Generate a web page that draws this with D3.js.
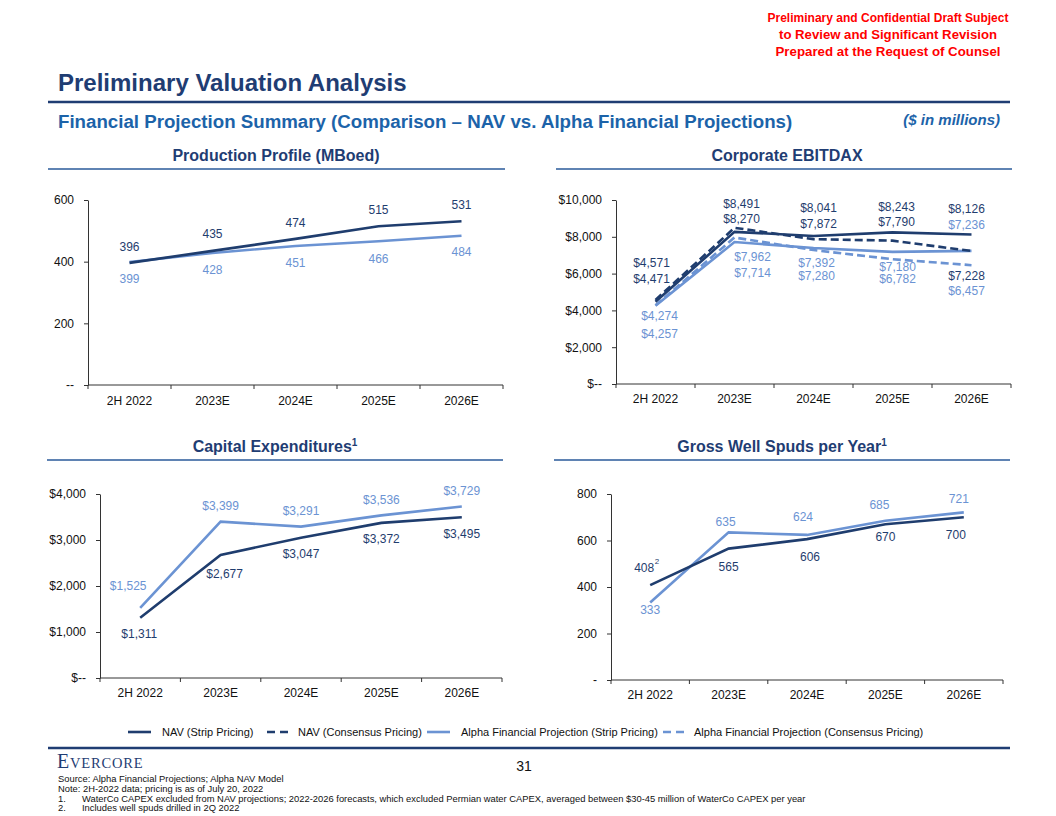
<!DOCTYPE html>
<html>
<head>
<meta charset="utf-8">
<script src="https://cdn.jsdelivr.net/npm/d3@7"></script>
<style>
  body { margin: 0; background: #fff; }
  svg { display: block; font-family: "Liberation Sans", Arial, sans-serif; }
</style>
</head>
<body>
<svg id="page" width="1056" height="816"></svg>
<script>
// ---- data ----
var years = ["2H 2022", "2023E", "2024E", "2025E", "2026E"];

var prodNav   = [396, 435, 474, 515, 531];
var prodAlpha = [399, 428, 451, 466, 484];

var ebitdaNavStrip   = [4471, 8270, 8041, 8243, 8126];
var ebitdaNavCons    = [4571, 8491, 7872, 7790, 7228];
var ebitdaAlphaStrip = [4257, 7714, 7392, 7180, 7236];
var ebitdaAlphaCons  = [4274, 7962, 7280, 6782, 6457];

var capexNav   = [1311, 2677, 3047, 3372, 3495];
var capexAlpha = [1525, 3399, 3291, 3536, 3729];

var spudsNav   = [408, 565, 606, 670, 700];
var spudsAlpha = [333, 635, 624, 685, 721];

var prodTicks   = [0, 200, 400, 600];
var ebitdaTicks = [0, 2000, 4000, 6000, 8000, 10000];
var capexTicks  = [0, 1000, 2000, 3000, 4000];
var spudsTicks  = [0, 200, 400, 600, 800];

var legendNames = ["NAV (Strip Pricing)", "NAV (Consensus Pricing)",
  "Alpha Financial Projection (Strip Pricing)", "Alpha Financial Projection (Consensus Pricing)"];

// ---- label nudges, px [dx, dy] from each point (layout only) ----
var offProdNav   = [[0,-16],[0,-17],[0,-16],[0,-16],[0,-16]];
var offProdAlpha = [[0,17],[0,17],[0,17],[0,17],[0,16]];
var offEbNavStrip   = [[-4,-23],[7,-13],[5,-28],[4,-26],[-5,-26]];
var offEbNavCons    = [[-4,-37],[7,-24],[5,-15],[4,-19],[-5,25]];
var offEbAlphaStrip = [[4,28],[18,31],[3,15],[5,15],[-5,-26]];
var offEbAlphaCons  = [[4,10],[18,19],[3,26],[5,20],[-5,26]];
var offCapexNav   = [[-1,16],[4,19],[0,16],[0,16],[0,17]];
var offCapexAlpha = [[-12,-22],[0,-16],[0,-16],[0,-16],[0,-16]];
var offSpudsNav   = [[-6,-17],[0,18],[3,18],[0,13],[-8,18]];
var offSpudsAlpha = [[0,7],[-3,-11],[-4,-18],[-6,-16],[-5,-14]];

var DARK = "#1f3d6e", LIGHT = "#6b93d3", NAVY = "#1f3d73";

var svg = d3.select("#page");

var charts = (function(){
  var dollar = function(v){ return "$" + d3.format(",")(v); },
  plain = function(v){ return d3.format(",")(v); },

  draw = function(c){   // one small line chart
    var x = d3.scaleBand().domain(years).range([c.x0, c.x1]);
    var y = d3.scaleLinear().domain([0, c.max]).range([c.y0, c.y1]);
    var g = svg.append("g");

    // y axis
    var ya = g.append("g").attr("transform", "translate(" + c.x0 + ",0)")
      .call(d3.axisLeft(y).tickValues(c.ticks).tickSize(4).tickPadding(10).tickSizeOuter(0)
        .tickFormat(function(d){ return d === 0 ? c.zero : c.tick(d); }));
    // x axis (labels only, boundary ticks added below)
    var xa = g.append("g").attr("transform", "translate(0," + c.y0 + ")")
      .call(d3.axisBottom(x).tickSize(0).tickPadding(c.xpad));
    xa.select(".domain").remove();
    g.append("line").attr("x1", c.x0).attr("x2", c.x1).attr("y1", c.y0).attr("y2", c.y0)
      .attr("stroke", "#333");
    g.selectAll(".bt").data(years.map(function(d){ return x(d); }).concat([c.x1]))
      .enter().append("line").attr("class", "bt")
      .attr("x1", function(d){ return d; }).attr("x2", function(d){ return d; })
      .attr("y1", c.y0).attr("y2", c.y0 + 4).attr("stroke", "#333");
    [ya, xa].forEach(function(a){
      a.selectAll("text").attr("font-size", 12).attr("fill", "#111")
        .attr("font-family", "'Liberation Sans', Arial, sans-serif");
      a.selectAll("line, path").attr("stroke", "#333");
    });

    var cx = function(i){ return x(years[i]) + x.bandwidth() / 2; };
    var line = d3.line().x(function(d, i){ return cx(i); }).y(function(d){ return y(d); });

    c.series.forEach(function(s){
      g.append("path").datum(s.values).attr("d", line)
        .attr("fill", "none").attr("stroke", s.color).attr("stroke-width", 2.6)
        .attr("stroke-dasharray", s.dash ? "8,4" : null);
    });
    c.series.forEach(function(s){
      g.selectAll(null).data(s.values).enter().append("text")
        .attr("x", function(d, i){ return cx(i) + s.off[i][0]; })
        .attr("y", function(d, i){ return y(d) + s.off[i][1]; })
        .attr("dy", "0.35em").attr("text-anchor", "middle")
        .attr("font-size", 12).attr("fill", s.color)
        .text(function(d){ return c.label(d); });
    });
    return { g: g, x: x, y: y, cx: cx };
  };

  return { draw: draw, dollar: dollar, plain: plain };
})();

// ---- header ----
var warn = [["Preliminary and Confidential Draft Subject", 22, 241],
            ["to Review and Significant Revision", 39, 218],
            ["Prepared at the Request of Counsel", 56, 225]];
svg.selectAll(".warn").data(warn).enter().append("text")
  .attr("x", 888).attr("y", function(d){ return d[1]; }).attr("text-anchor", "middle")
  .attr("font-size", 13).attr("font-weight", "bold").attr("fill", "#ff0000")
  .attr("textLength", function(d){ return d[2]; }).attr("lengthAdjust", "spacingAndGlyphs")
  .text(function(d){ return d[0]; });

svg.append("text").attr("x", 58).attr("y", 91).attr("font-size", 24).attr("font-weight", "bold")
  .attr("fill", NAVY).text("Preliminary Valuation Analysis");
svg.append("line").attr("x1", 48).attr("x2", 1010).attr("y1", 102).attr("y2", 102)
  .attr("stroke", NAVY).attr("stroke-width", 2.5);
svg.append("text").attr("x", 58).attr("y", 128).attr("font-size", 18.7).attr("font-weight", "bold")
  .attr("fill", "#1c63a9").text("Financial Projection Summary (Comparison \u2013 NAV vs. Alpha Financial Projections)");
svg.append("text").attr("x", 1000).attr("y", 125).attr("text-anchor", "end").attr("font-size", 15)
  .attr("font-weight", "bold").attr("font-style", "italic").attr("fill", "#1c63a9").text("($ in millions)");

// chart headings with rules
var heads = [["Production Profile (MBoed)", 276, 161, 48, 505, null],
             ["Corporate EBITDAX", 787, 161, 556, 1012, null],
             ["Capital Expenditures", 275, 452, 47, 503, "1"],
             ["Gross Well Spuds per Year", 782, 452, 554, 1010, "1"]];
heads.forEach(function(h){
  var t = svg.append("text").attr("x", h[1]).attr("y", h[2]).attr("text-anchor", "middle")
    .attr("font-size", 16).attr("font-weight", "bold").attr("fill", NAVY).text(h[0]);
  if (h[5]) t.append("tspan").attr("font-size", 10).attr("dy", -6).text(h[5]);
  svg.append("line").attr("x1", h[3]).attr("x2", h[4]).attr("y1", h[2] + 8).attr("y2", h[2] + 8)
    .attr("stroke", "#2a5a9a").attr("stroke-width", 1.5);
});

// ---- the four charts ----
charts.draw({ x0: 88, x1: 503, y0: 385, y1: 200, max: 600, ticks: prodTicks, xpad: 11,
  zero: "--", tick: charts.plain, label: charts.plain,
  series: [ { values: prodAlpha, color: LIGHT, off: offProdAlpha },
            { values: prodNav, color: DARK, off: offProdNav } ] });

charts.draw({ x0: 616, x1: 1011, y0: 384, y1: 200, max: 10000, ticks: ebitdaTicks, xpad: 10,
  zero: "$--", tick: charts.dollar, label: charts.dollar,
  series: [ { values: ebitdaAlphaCons, color: LIGHT, dash: true, off: offEbAlphaCons },
            { values: ebitdaAlphaStrip, color: LIGHT, off: offEbAlphaStrip },
            { values: ebitdaNavCons, color: DARK, dash: true, off: offEbNavCons },
            { values: ebitdaNavStrip, color: DARK, off: offEbNavStrip } ] });

charts.draw({ x0: 100, x1: 502, y0: 678, y1: 494, max: 4000, ticks: capexTicks, xpad: 10,
  zero: "$--", tick: charts.dollar, label: charts.dollar,
  series: [ { values: capexAlpha, color: LIGHT, off: offCapexAlpha },
            { values: capexNav, color: DARK, off: offCapexNav } ] });

var sp = charts.draw({ x0: 611, x1: 1003, y0: 680, y1: 494, max: 800, ticks: spudsTicks, xpad: 10,
  zero: "-", tick: charts.plain, label: charts.plain,
  series: [ { values: spudsAlpha, color: LIGHT, off: offSpudsAlpha },
            { values: spudsNav, color: DARK, off: offSpudsNav } ] });
// footnote 2 marker on the first spud label
sp.g.append("text").attr("x", sp.cx(0) + offSpudsNav[0][0] + 10.5)
  .attr("y", sp.y(spudsNav[0]) + offSpudsNav[0][1] - 4).attr("font-size", 8).attr("fill", DARK).text("2");

// ---- legend ----
var legX = [128, 267, 427, 663];
var leg = svg.selectAll(".leg").data(legendNames).enter().append("g").attr("class", "leg")
  .attr("transform", function(d, i){ return "translate(" + legX[i] + ",732)"; });
leg.append("line").attr("x1", 0).attr("x2", 23).attr("y1", 0).attr("y2", 0)
  .attr("stroke", function(d, i){ return i < 2 ? DARK : LIGHT; }).attr("stroke-width", 2.6)
  .attr("stroke-dasharray", function(d, i){ return i % 2 ? "8,5" : null; });
leg.append("text").attr("x", function(d, i){ return i % 2 ? 31 : 34; }).attr("y", 0).attr("dy", "0.35em")
  .attr("font-size", 11).attr("fill", "#111").text(function(d){ return d; });

// ---- footer ----
svg.append("line").attr("x1", 48).attr("x2", 1010).attr("y1", 748).attr("y2", 748)
  .attr("stroke", NAVY).attr("stroke-width", 2.5);
var logo = svg.append("text").attr("x", 57).attr("y", 768).attr("fill", NAVY)
  .attr("font-family", "'Liberation Serif', 'DejaVu Serif', serif").attr("letter-spacing", 0.8);
logo.append("tspan").attr("font-size", 20).text("E");
logo.append("tspan").attr("font-size", 14.5).text("VERCORE");
svg.append("text").attr("x", 524).attr("y", 771).attr("text-anchor", "middle").attr("font-size", 14)
  .attr("fill", "#111").text("31");

var notes = [["", "Source: Alpha Financial Projections; Alpha NAV Model"],
             ["", "Note: 2H-2022 data; pricing is as of July 20, 2022"],
             ["1.", "WaterCo CAPEX excluded from NAV projections; 2022-2026 forecasts, which excluded Permian water CAPEX, averaged between $30-45 million of WaterCo CAPEX per year"],
             ["2.", "Includes well spuds drilled in 2Q 2022"]];
notes.forEach(function(n, i){
  var yy = 782 + i * 9.8;
  if (n[0]) {
    svg.append("text").attr("x", 58).attr("y", yy).attr("font-size", 9.4).attr("fill", "#111").text(n[0]);
    svg.append("text").attr("x", 82).attr("y", yy).attr("font-size", 9.4).attr("fill", "#111").text(n[1]);
  } else {
    svg.append("text").attr("x", 58).attr("y", yy).attr("font-size", 9.4).attr("fill", "#111").text(n[1]);
  }
});
</script>
</body>
</html>
